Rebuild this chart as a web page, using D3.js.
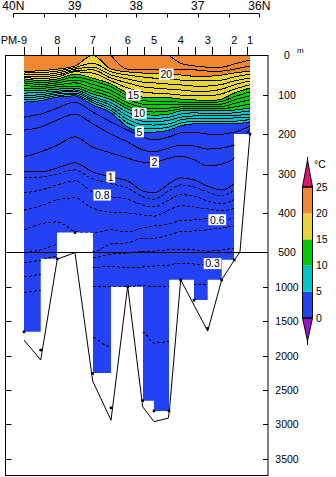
<!DOCTYPE html>
<html><head><meta charset="utf-8">
<script src="https://cdn.jsdelivr.net/npm/d3@7"></script>
<style>
html,body{margin:0;padding:0;background:#fff;}
svg{display:block;}
text{font-family:"Liberation Sans",Arial,sans-serif;fill:#000;}
</style></head><body>
<svg id="c" width="336" height="477"></svg>
<script>
// ---------------- DATA ----------------
// station positions (latitude) along the section, with intermediate stations
const stationLat = [39.826,39.554,39.285,38.997,38.709,38.411,38.140,37.896,37.712,37.468,37.278,37.062,36.839,36.611,36.407,36.151];
const stationName = ["PM-9","","8","","7","","6","","5","","4","","3","","2","1"];
// deepest sample depth at each station (m)
const sampleDepth = [1655,1920,595,450,2260,2760,1000,2655,2805,2805,900,1195,1605,900,610,200];
// bottom topography line
const bathyLat   = [39.826,39.554,39.285,38.997,38.709,38.411,38.140,37.896,37.712,37.480,37.463,37.278,36.839,36.611,36.407,36.315,36.151];
const bathyDepth = [1775,2065,600,505,2370,2940,990,2745,2960,2910,2815,900,1645,900,612,500,200];
// axis ticks
const latTicks = [40,39.5,39,38.5,38,37.5,37,36.5,36];
const latLabels = ["40N","","39","","38","","37","","36N"];
const stationTickLat = [39.826,39.548,39.269,38.991,38.712,38.434,38.155,37.877,37.598,37.320,37.041,36.763,36.484,36.206];
const depthTicks = [100,200,300,400,1000,1500,2000,2500,3000,3500];
const depthLabels = [0,100,200,300,400,500,1000,1500,2000,2500,3000,3500];
// isotherm levels (deg C) and their depths (m) at each station
const isoLevels = [22,21,20,19,18,17,16,15,14,13,12,11,10,9,8,7,6,5,4,3,2,1,0.9,0.8,0.7,0.6,0.5,0.4,0.3,0.2,0.1];
const isoDepths = [
 [null,null,null,null,null,null,null,null,null,0,20,27,30,30,22,12],
 [null,null,null,null,null,0,35,37,37,37,37,37,40,40,35,27],
 [41,39,35,27,0,35,42,45,46,48,50,53,53,50,45,40],
 [45,44,40,31,20,42,50,55,58,60,63,65,65,63,55,48],
 [49,49,45,35,30,50,60,68,70,73,75,78,78,74,65,58],
 [53,54,50,39,37,58,70,80,83,86,88,91,91,86,75,65],
 [56,59,55,42,45,65,83,93,96,98,101,103,103,98,86,75],
 [60,64,60,48,58,73,96,106,108,108,111,113,116,111,96,83],
 [65,69,65,55,65,80,103,115,117,117,119,120,121,117,105,93],
 [70,74,70,63,74,89,112,124,126,126,125,126,126,124,113,103],
 [77,79,75,70,83,98,121,132,135,134,131,131,131,130,122,113],
 [83,84,80,78,91,106,129,141,144,141,136,135,136,136,131,124],
 [89,89,86,83,98,113,136,149,152,149,141,139,141,141,139,134],
 [96,94,91,88,105,121,145,158,160,157,149,146,148,148,146,141],
 [102,100,94,92,110,127,154,167,169,165,157,154,154,154,153,149],
 [107,105,98,96,115,134,163,176,177,174,164,160,160,160,159,157],
 [113,110,102,100,120,140,172,185,186,182,172,167,167,167,167,163],
 [119,115,106,103,126,146,182,195,195,190,179,174,174,174,174,169],
 [157,149,134,119,144,169,190,207,215,207,197,195,200,200,195,180],
 [190,182,164,149,174,200,220,240,245,235,228,230,238,235,228,187],
 [258,245,228,207,233,248,261,271,271,261,256,265,281,276,261,195],
 [296,296,286,273,296,309,319,344,349,326,311,316,332,342,326,null],
 [311,309,301,291,314,326,337,359,365,344,329,334,347,357,342,null],
 [349,342,329,319,347,359,365,380,385,367,354,357,370,377,365,null],
 [393,382,367,362,388,398,400,405,408,393,382,385,390,395,388,null],
 [443,428,423,446,451,443,448,438,433,428,420,418,415,418,413,null],
 [510,494,481,489,499,479,476,464,464,456,448,446,443,438,433,null],
 [655,612,554,554,583,525,510,497,497,494,494,494,497,494,489,null],
 [859,815,728,699,728,699,728,714,699,685,655,670,670,641,612,null],
 [1091,1048,1019,990,990,1004,1004,975,1004,990,975,975,975,961,932,null],
 [1702,1702,1687,1687,1731,1876,1774,1658,1818,1789,null,null,null,null,null,null]
];
// contour labels
const labelLevels = [20,15,10,5,2,1,0.8,0.6,0.3];
const labelText   = ["20","15","10","5","2","1","0.8","0.6","0.3"];
const labelLat    = [37.512,38.049,37.951,37.948,37.704,38.415,38.554,36.683,36.761];
// colour classes (deg C)
const bandLevels = [5,10,15,20];
const bandColors = ["#00C6C6","#00CC00","#E8D43A","#F08832"];
const baseColor = "#2342F5";
const cbBounds = [0,5,10,15,20,25];
const cbColors = ["#2342F5","#00C6C6","#00CC00","#E8D43A","#F08832"];
const cbHigh = "#E0146A", cbLow = "#9A12C8";

// ---------------- CHART ----------------
const svg = d3.select("#c");
const L = 5.5, R = 268, T = 55.5, B = 475.5;
const x = d3.scaleLinear().domain([40,36]).range([13.3,259.3]);
const y = d3.scaleLinear().domain([0,500,3750]).range([55.3,252.3,476]);

// data mask (columns between neighbouring stations down to the shallower sample)
const n = stationLat.length;
const maskPts = [[x(stationLat[0]), y(0)], [x(stationLat[n-1]), y(0)]];
for (let i = n-2; i >= 0; i--) {
  const b = Math.min(sampleDepth[i], sampleDepth[i+1]);
  maskPts.push([x(stationLat[i+1]), y(b)], [x(stationLat[i]), y(b)]);
}
const maskPath = "M" + maskPts.map(p => p.join(",")).join("L") + "Z";
svg.append("defs").append("clipPath").attr("id","dclip").append("path").attr("d", maskPath);

const g = svg.append("g").attr("clip-path","url(#dclip)");
g.append("path").attr("d", maskPath).attr("fill", baseColor).attr("shape-rendering","crispEdges");

const area = d3.area().curve(d3.curveMonotoneX)
  .x((d,i) => x(stationLat[i])).y0(y(0)).y1(d => y(d));
bandLevels.forEach((lv,k) => {
  const dat = isoDepths[isoLevels.indexOf(lv)];
  g.append("path").attr("d", area(dat)).attr("fill", bandColors[k]).attr("shape-rendering","crispEdges");
});

const line = d3.line().defined(d => d != null).curve(d3.curveMonotoneX)
  .x((d,i) => x(stationLat[i])).y(d => y(d));
const linePaths = isoLevels.map((lv,k) =>
  g.append("path").attr("d", line(isoDepths[k])).attr("fill","none")
   .attr("stroke","#000").attr("stroke-width",1)
   .attr("stroke-dasharray", lv < 1 ? "3,2" : null)
   .attr("shape-rendering","crispEdges").node());

// contour labels
labelLevels.forEach((lv,k) => {
  const node = linePaths[isoLevels.indexOf(lv)];
  const px = x(labelLat[k]);
  let lo = 0, hi = node.getTotalLength();
  for (let it = 0; it < 40; it++) {
    const mid = (lo+hi)/2;
    if (node.getPointAtLength(mid).x < px) lo = mid; else hi = mid;
  }
  const py = node.getPointAtLength(lo).y;
  const t = svg.append("text").attr("x", px).attr("y", py + 3.8)
    .attr("text-anchor","middle").attr("font-size","10.5px").text(labelText[k]);
  const w = t.node().getComputedTextLength() + 3;
  svg.insert("rect", () => t.node()).attr("x", px - w/2).attr("y", py - 5.5)
    .attr("width", w).attr("height", 11).attr("fill","#fff");
});

// bottom topography
svg.append("path")
  .attr("d", d3.line().x(d => x(d[0])).y(d => y(d[1]))(bathyLat.map((v,i) => [v, bathyDepth[i]])))
  .attr("fill","none").attr("stroke","#000").attr("stroke-width",1);
svg.selectAll("rect.dot").data(stationLat).join("rect").attr("class","dot")
  .attr("x", d => x(d) - 1.3).attr("y", (d,i) => y(sampleDepth[i]) - 1.3)
  .attr("width", 2.6).attr("height", 2.6).attr("fill","#000");

// frame and 500 m divider
svg.append("rect").attr("x", L).attr("y", T).attr("width", R-L).attr("height", B-T)
  .attr("fill","none").attr("stroke","#000").attr("stroke-width",1);
svg.append("line").attr("x1", L).attr("x2", R).attr("y1", Math.round(y(500))+0.5).attr("y2", Math.round(y(500))+0.5)
  .attr("stroke","#000");

// depth ticks (both sides, inward)
depthTicks.forEach(d => {
  const yy = Math.round(y(d)) + 0.5;
  svg.append("line").attr("x1", L).attr("x2", L+6).attr("y1", yy).attr("y2", yy).attr("stroke","#000");
  svg.append("line").attr("x1", R-5).attr("x2", R).attr("y1", yy).attr("y2", yy).attr("stroke","#000");
});
depthLabels.forEach(d => {
  svg.append("text").attr("x", 287).attr("y", y(d) + 4).attr("text-anchor","middle")
    .attr("font-size","10.5px").text(d);
});
svg.append("text").attr("x", 297).attr("y", 53).attr("font-size","8px").text("m");

// latitude axis (top)
svg.append("line").attr("x1", x(40)).attr("x2", x(36)).attr("y1", 13.5).attr("y2", 13.5).attr("stroke","#000");
latTicks.forEach((v,i) => {
  const xx = Math.round(x(v)) + 0.5;
  svg.append("line").attr("x1", xx).attr("x2", xx).attr("y1", 13.5).attr("y2", 17.5).attr("stroke","#000");
  if (latLabels[i]) svg.append("text").attr("x", x(v)).attr("y", 9.8).attr("text-anchor","middle")
    .attr("font-size","12px").text(latLabels[i]);
});

// station axis
stationTickLat.forEach(v => {
  const xx = Math.round(x(v)) + 0.5;
  svg.append("line").attr("x1", xx).attr("x2", xx).attr("y1", 47).attr("y2", T).attr("stroke","#000");
});
stationName.forEach((s,i) => {
  if (!s) return;
  if (s.startsWith("PM-")) {
    svg.append("text").attr("x", x(stationLat[i]) + 3).attr("y", 43.5).attr("text-anchor","end")
      .attr("font-size","11px").text(s);
  } else {
    svg.append("text").attr("x", x(stationLat[i])).attr("y", 43.5).attr("text-anchor","middle")
      .attr("font-size","11px").text(s);
  }
});

// colour bar
const cy = d3.scaleLinear().domain([0,25]).range([318,187]);
const cx0 = 302.5, cx1 = 312.5, cxm = (cx0+cx1)/2;
cbColors.forEach((c,i) => {
  svg.append("rect").attr("x", cx0).attr("y", cy(cbBounds[i+1])).attr("width", cx1-cx0)
    .attr("height", cy(cbBounds[i]) - cy(cbBounds[i+1])).attr("fill", c);
});
svg.append("path").attr("d", `M${cx0},${cy(25)}L${cxm},160L${cx1},${cy(25)}Z`).attr("fill", cbHigh).attr("stroke","#000");
svg.append("path").attr("d", `M${cx0},${cy(0)}L${cxm},341L${cx1},${cy(0)}Z`).attr("fill", cbLow).attr("stroke","#000");
svg.append("line").attr("x1", cxm).attr("x2", cxm).attr("y1", 157).attr("y2", 160).attr("stroke","#000");
svg.append("line").attr("x1", cxm).attr("x2", cxm).attr("y1", 341).attr("y2", 345).attr("stroke","#000");
svg.append("rect").attr("x", cx0).attr("y", cy(25)).attr("width", cx1-cx0).attr("height", cy(0)-cy(25))
  .attr("fill","none").attr("stroke","#000");
cbBounds.forEach(v => {
  svg.append("text").attr("x", 316).attr("y", cy(v) + 3.5).attr("font-size","10.5px").text(v);
});
svg.append("text").attr("x", 314).attr("y", 168).attr("font-size","10.5px").text("°C");
</script>
</body></html>
